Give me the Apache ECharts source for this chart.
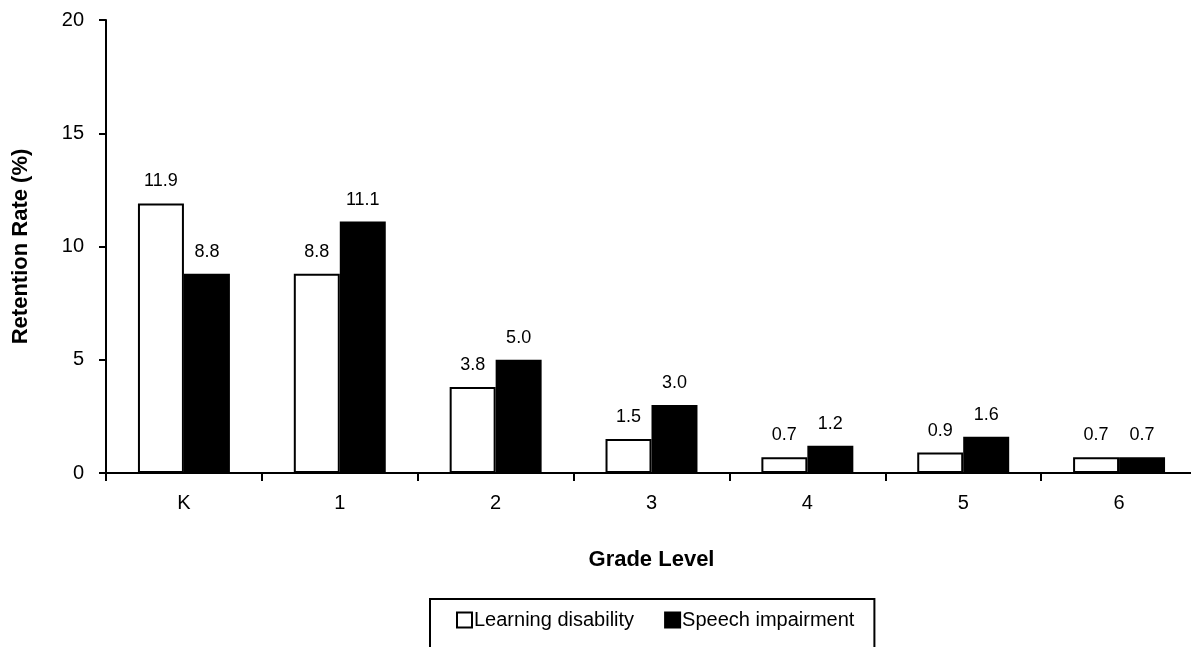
<!DOCTYPE html>
<html>
<head>
<meta charset="utf-8">
<script src="https://cdn.jsdelivr.net/npm/echarts@6/dist/echarts.min.js"></script>
<style>
    html, body { margin: 0; padding: 0; background: #fff; }
    #chart { width: 1191px; height: 647px; }
</style>
</head>
<body>
<div id="chart"></div>
<script>
var grades = ['K', '1', '2', '3', '4', '5', '6'];
var learningDisability = [11.9, 8.8, 3.8, 1.5, 0.7, 0.9, 0.7];
var speechImpairment = [8.8, 11.1, 5.0, 3.0, 1.2, 1.6, 0.7];
var yTicks = [0, 5, 10, 15, 20];

var chart = echarts.init(document.getElementById('chart'));
var font = '"Liberation Sans", Arial, sans-serif';

var valueLabel = {
    show: true,
    position: 'top',
    distance: 13,
    color: '#000',
    fontSize: 18,
    fontFamily: font,
    formatter: function (p) { return p.value.toFixed(1); }
};

var option = {
    animation: false,
    textStyle: { fontFamily: font },
    grid: {
        left: 106,
        top: 20,
        width: 1091,
        height: 453,
        outerBoundsMode: 'none',
        containLabel: false
    },
    legend: {
        top: 599,
        left: 430,
        padding: [11, 20, 30, 26],
        borderColor: '#000',
        borderWidth: 2,
        itemWidth: 15,
        itemHeight: 15,
        itemGap: 30,
        icon: 'rect',
        textStyle: { color: '#000', fontSize: 20, fontFamily: font, padding: [0, 0, 0, -3] },
        data: [
            { name: 'Learning disability', itemStyle: { color: '#fff', borderColor: '#000', borderWidth: 2 } },
            { name: 'Speech impairment', itemStyle: { color: '#000' } }
        ]
    },
    xAxis: {
        type: 'category',
        data: grades,
        name: 'Grade Level',
        nameLocation: 'middle',
        nameGap: 76,
        nameTextStyle: { color: '#000', fontSize: 22, fontWeight: 'bold', fontFamily: font },
        axisLine: { lineStyle: { color: '#000', width: 2 } },
        axisTick: { show: true, length: 8, lineStyle: { color: '#000', width: 2 } },
        axisLabel: { color: '#000', fontSize: 20, margin: 20, fontFamily: font },
        splitLine: { show: false }
    },
    yAxis: {
        type: 'value',
        min: yTicks[0],
        max: yTicks[yTicks.length - 1],
        interval: 5,
        name: 'Retention Rate (%)',
        nameLocation: 'middle',
        nameGap: 74,
        nameTextStyle: { color: '#000', fontSize: 22, fontWeight: 'bold', fontFamily: font },
        axisLine: { show: true, lineStyle: { color: '#000', width: 2 } },
        axisTick: { show: true, length: 7, lineStyle: { color: '#000', width: 2 } },
        axisLabel: { color: '#000', fontSize: 20, margin: 22, fontFamily: font },
        splitLine: { show: false }
    },
    series: [
        {
            name: 'Learning disability',
            type: 'bar',
            data: learningDisability,
            barGap: '0%',
            barCategoryGap: '41%',
            itemStyle: { color: '#fff', borderColor: '#000', borderWidth: 2 },
            label: valueLabel
        },
        {
            name: 'Speech impairment',
            type: 'bar',
            data: speechImpairment,
            barGap: '0%',
            barCategoryGap: '41%',
            itemStyle: { color: '#000', borderColor: '#000', borderWidth: 2 },
            label: valueLabel
        }
    ]
};

chart.setOption(option);
</script>
</body>
</html>
